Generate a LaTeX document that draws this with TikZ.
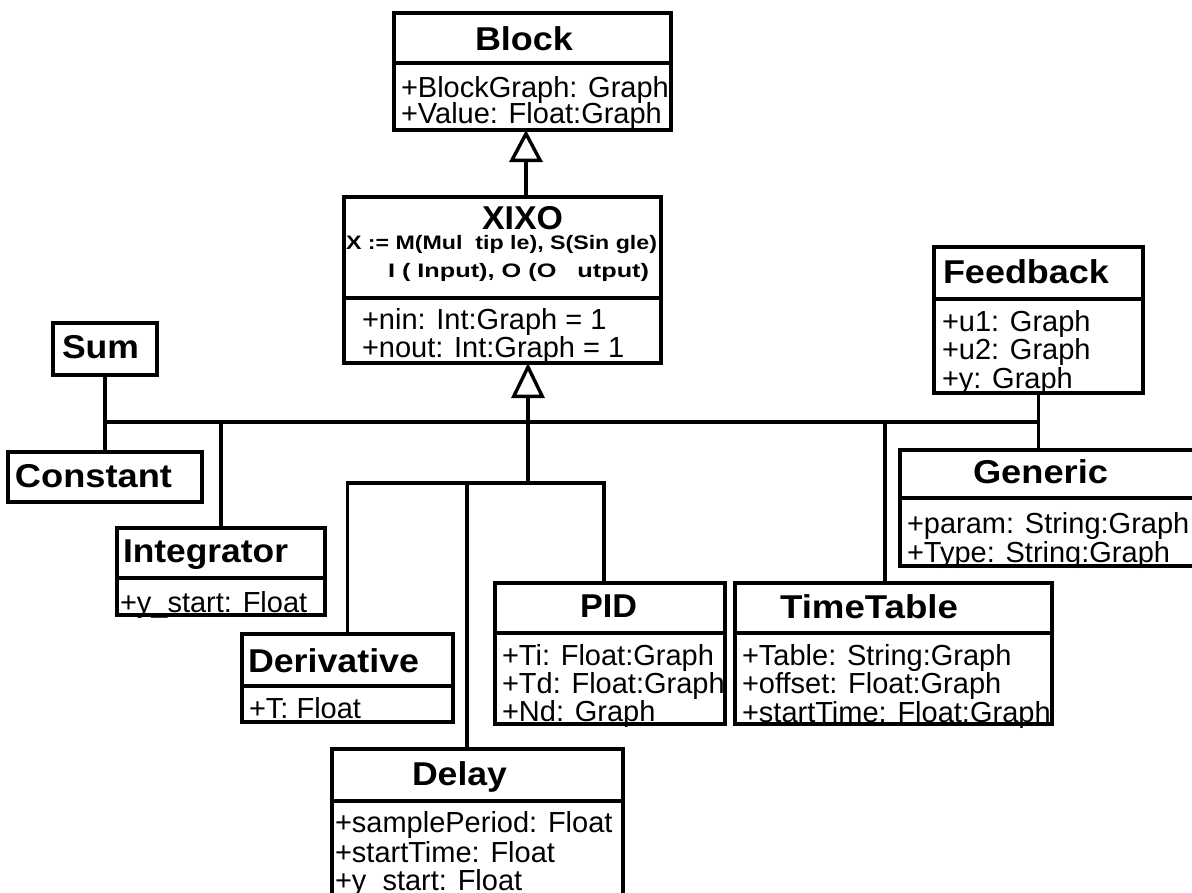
\documentclass[tikz,border=0pt]{standalone}
\usepackage{fontspec}
\setmainfont{Liberation Sans}
\usetikzlibrary{arrows.meta}
\newcommand\attrsize{\fontsize{29}{29}\selectfont}
\newcommand\clsname[2]{\resizebox{#1pt}{\height}{#2}}
\begin{document}
\begin{tikzpicture}[x=1pt,y=-1pt,
  every node/.style={inner sep=0pt,outer sep=0pt},
  attr/.style={anchor=base west,font=\attrsize},
  cname/.style={anchor=base west,font=\fontsize{33}{33}\selectfont\bfseries},
  subline/.style={anchor=base west,font=\fontsize{19.5}{19.5}\selectfont\bfseries},
  clsbox/.style={draw,line width=3.4pt,anchor=north west,line join=miter},
  sepline/.style={line width=3.4pt},
  conn/.style={line width=3.4pt,line join=miter},
  gen/.style={conn,-{Triangle[open,length=#1,width=33pt]}},
]
\useasboundingbox (0,0) rectangle (1192,892);
\clip (0,0) rectangle (1192,892);

% ---- class names ----
\node[cname] (tBlock) at (475,50) {\clsname{98}{Block}};
\node[cname] (tXixo) at (482,229) {\clsname{81}{XIXO}};
\node[subline] (sXixo1) at (346,249) {\resizebox{311pt}{\height}{X := M(Mul\ \ tip le), S(Sin gle)}};
\node[subline] (sXixo2) at (388,277) {\resizebox{261pt}{\height}{I ( Input), O (O\ \ \ utput)}};
\node[cname] (tSum) at (62,358) {\clsname{77}{Sum}};
\node[cname] (tConst) at (15,487) {\clsname{157}{Constant}};
\node[cname] (tInteg) at (123,562) {\clsname{165}{Integrator}};
\node[cname] (tDeriv) at (248,672) {\clsname{171}{Derivative}};
\node[cname] (tPid) at (580,617) {\clsname{57}{PID}};
\node[cname] (tDelay) at (412,785) {\clsname{95}{Delay}};
\node[cname] (tTtab) at (780,618) {\clsname{178}{TimeTable}};
\node[cname] (tFeed) at (943,283) {\clsname{166}{Feedback}};
\node[cname] (tGen) at (973,483) {\clsname{135}{Generic}};

% ---- attributes ----
\node[attr] (aBlock1) at (401,97) {+BlockGraph: Graph};
\node[attr] (aBlock2) at (401,123) {+Value: Float:Graph};
\node[attr] (aXixo1) at (362,329) {+nin: Int:Graph = 1};
\node[attr] (aXixo2) at (362,357) {+nout: Int:Graph = 1};
\node[attr] (aFeed1) at (942,331) {+u1: Graph};
\node[attr] (aFeed2) at (942,359) {+u2: Graph};
\node[attr] (aFeed3) at (942,388) {+y: Graph};
\node[attr] (aGen1) at (907,533) {+param: String:Graph};
\node[attr] (aGen2) at (907,562) {+Type: String:Graph};
\node[attr] (aTtab1) at (742,665) {+Table: String:Graph};
\node[attr] (aTtab2) at (742,693) {+offset: Float:Graph};
\node[attr] (aTtab3) at (742,722) {+startTime: Float:Graph};
\node[attr] (aPid1) at (502,665) {+Ti: Float:Graph};
\node[attr] (aPid2) at (502,693) {+Td: Float:Graph};
\node[attr] (aPid3) at (502,721) {+Nd: Graph};
\node[attr] (aInteg1) at (120,612) {+y\_start: Float};
\node[attr] (aDeriv1) at (249,718) {+T: Float};
\node[attr] (aDelay1) at (335,832) {+samplePeriod: Float};
\node[attr] (aDelay2) at (335,862) {+startTime: Float};
\node[attr] (aDelay3) at (335,890) {+y\_start: Float};

% ---- class boxes ----
\node[clsbox,minimum width=277pt,minimum height=117pt] (block) at (394,13) {};
\node[clsbox,minimum width=317pt,minimum height=166pt] (xixo) at (344,197) {};
\node[clsbox,minimum width=104pt,minimum height=52pt] (sum) at (53,323) {};
\node[clsbox,minimum width=194pt,minimum height=50pt] (const) at (8,452) {};
\node[clsbox,minimum width=208pt,minimum height=87pt] (integ) at (117,528) {};
\node[clsbox,minimum width=211pt,minimum height=88pt] (deriv) at (242,634) {};
\node[clsbox,minimum width=230pt,minimum height=141pt] (pid) at (495,583) {};
\node[clsbox,minimum width=317pt,minimum height=141pt] (ttab) at (735,583) {};
\node[clsbox,minimum width=291pt,minimum height=160pt] (delay) at (332,749) {};
\node[clsbox,minimum width=209pt,minimum height=146pt] (feed) at (934,247) {};
\node[clsbox,minimum width=305pt,minimum height=116pt] (gen) at (900,450) {};

% compartment separators
\draw[sepline] (block.west |- 0,63) -- (block.east |- 0,63);
\draw[sepline] (xixo.west |- 0,298) -- (xixo.east |- 0,298);
\draw[sepline] (integ.west |- 0,578) -- (integ.east |- 0,578);
\draw[sepline] (deriv.west |- 0,686) -- (deriv.east |- 0,686);
\draw[sepline] (pid.west |- 0,633) -- (pid.east |- 0,633);
\draw[sepline] (ttab.west |- 0,633) -- (ttab.east |- 0,633);
\draw[sepline] (delay.west |- 0,801) -- (delay.east |- 0,801);
\draw[sepline] (feed.west |- 0,299) -- (feed.east |- 0,299);
\draw[sepline] (gen.west |- 0,498) -- (gen.east |- 0,498);

% ---- connectors ----
\coordinate (blkX) at (526,0);
\coordinate (hubA) at (528,422);
\coordinate (hubB) at (528,483);
\coordinate (ttStem) at (885,422);
\coordinate (dlStem) at (467,483);
\coordinate (pidStem) at (604,483);

\draw[gen=32pt] (xixo.north -| blkX) -- (block.south -| blkX);
\draw[gen=35pt] (hubB) -- (xixo.south -| hubB);
\draw[conn] (sum.south) -- (const.north);
\draw[conn] (sum.south |- hubA) -- (feed.south |- hubA);
\draw[conn] (feed.south) -- (gen.north -| feed.south);
\draw[conn] (integ.north |- hubA) -- (integ.north);
\draw[conn] (ttStem) -- (ttab.north -| ttStem);
\draw[conn] (deriv.north) -- (deriv.north |- hubB) -- (pidStem) -- (pid.north -| pidStem);
\draw[conn] (dlStem) -- (delay.north -| dlStem);
\end{tikzpicture}
\end{document}
